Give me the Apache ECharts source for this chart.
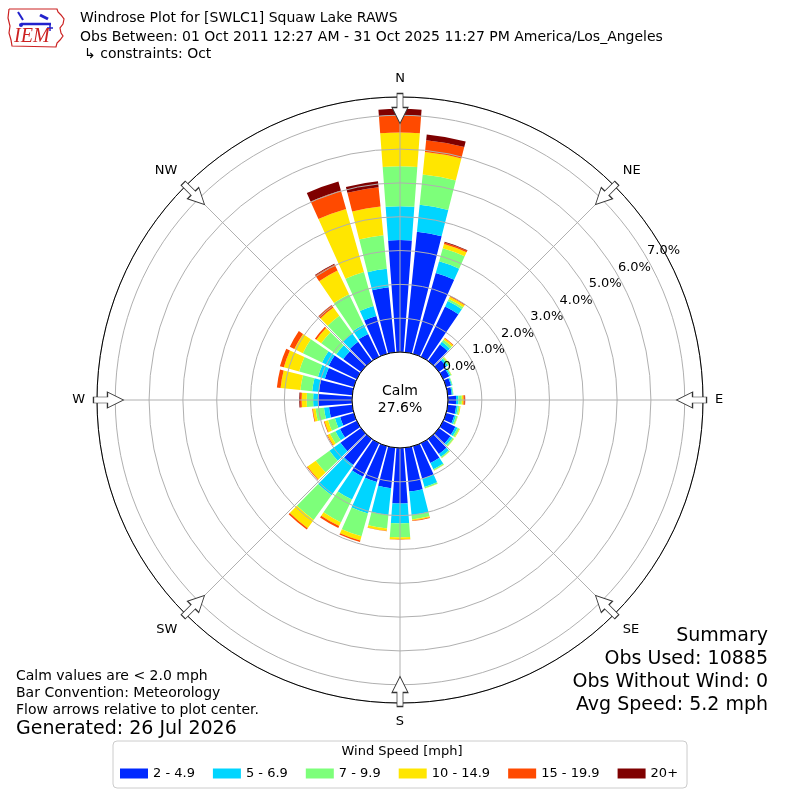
<!DOCTYPE html>
<html><head><meta charset="utf-8">
<script src="https://cdn.jsdelivr.net/npm/echarts@6/dist/echarts.min.js"></script>
<style>html,body{margin:0;padding:0;background:#fff}#c{width:800px;height:800px}</style>
</head><body><div id="c"></div>
<script>
// ---- data (percent of observations) ----
const directions = ['0','10','20','30','40','50','60','70','80','90','100','110','120','130','140','150','160','170',
                    '180','190','200','210','220','230','240','250','260','270','280','290','300','310','320','330','340','350'];
const speedBins = ['2 - 4.9','5 - 6.9','7 - 9.9','10 - 14.9','15 - 19.9','20+'];
const bin_2_5   = [3.31,3.58,2.48,1.65,0.60,0.27,0.20,0.15,0.12,0.24,0.25,0.25,0.40,0.42,0.55,0.65,1.00,1.30,1.64,1.20,1.10,1.10,0.95,0.75,0.55,0.42,0.69,1.00,0.99,0.89,0.92,0.65,0.70,0.75,1.16,1.93];
const bin_5_7   = [1.00,0.80,0.36,0.18,0.10,0.06,0.04,0.03,0.03,0.07,0.05,0.05,0.07,0.07,0.10,0.20,0.25,0.70,0.59,0.80,0.97,0.75,1.10,0.40,0.15,0.16,0.15,0.15,0.20,0.21,0.22,0.25,0.30,0.30,0.31,0.55];
const bin_7_10  = [1.18,0.90,0.40,0.07,0.08,0.05,0.03,0.02,0.02,0.10,0.05,0.05,0.06,0.05,0.04,0.04,0.04,0.13,0.41,0.40,0.70,0.75,0.90,0.50,0.18,0.21,0.25,0.19,0.35,0.58,0.63,0.55,0.65,1.00,1.04,1.00];
const bin_10_15 = [1.00,0.67,0.13,0.07,0.05,0.02,0.01,0.00,0.00,0.05,0.03,0.01,0.02,0.01,0.01,0.01,0.01,0.03,0.06,0.07,0.13,0.12,0.30,0.30,0.08,0.11,0.08,0.15,0.59,0.47,0.28,0.18,0.30,0.78,1.94,0.85];
const bin_15_20 = [0.51,0.35,0.05,0.03,0.02,0.00,0.00,0.00,0.00,0.04,0.00,0.00,0.00,0.00,0.00,0.00,0.00,0.02,0.01,0.01,0.04,0.06,0.05,0.02,0.02,0.02,0.02,0.05,0.11,0.12,0.15,0.05,0.08,0.20,0.57,0.57];
const bin_20p   = [0.19,0.17,0.02,0.00,0.00,0.00,0.00,0.00,0.00,0.01,0.00,0.00,0.00,0.00,0.00,0.00,0.00,0.00,0.00,0.00,0.00,0.00,0.00,0.00,0.00,0.00,0.00,0.02,0.00,0.00,0.00,0.00,0.01,0.02,0.27,0.18];
const radialTicks = [0,1,2,3,4,5,6,7];
const compassLabels = ['N','NE','E','SE','S','SW','W','NW'];
const arrowDirs = [0,45,90,135,180,225,270,315];
const calmPercent = 27.6;
const radiusMax = 7.54;

const binData = [bin_2_5, bin_5_7, bin_7_10, bin_10_15, bin_15_20, bin_20p];
const binColors = ['#0029ff','#00d5ff','#7dff7a','#ffe600','#ff4a00','#7f0000'];
const FONT = 'DejaVu Sans';

const chart = echarts.init(document.getElementById('c'), null, {renderer: 'canvas'});

const barSeries = speedBins.map((name, i) => ({
  name, type: 'bar', coordinateSystem: 'polar', polarIndex: 0, stack: 'wind',
  data: binData[i], barCategoryGap: '15%', itemStyle: {color: binColors[i]},
  z: 2, silent: true
}));

const arrowSeries = {
  type: 'scatter', coordinateSystem: 'polar', polarIndex: 1, silent: true, z: 20,
  symbol: 'path://M5,0 L11,0 L11,14 L16,14 L8,30 L0,14 L5,14 Z',
  symbolSize: [16, 30], symbolKeepAspect: false,
  itemStyle: {color: '#ffffff', borderColor: '#333333', borderWidth: 1, opacity: 1},
  data: arrowDirs.map(d => ({value: [radiusMax * 0.955, d], symbolRotate: -d}))
};

const txt = (x, y, text, size, align, extra) => ({
  type: 'text', x, y, silent: true, z: 30,
  style: Object.assign({text, font: size + 'px "' + FONT + '"', fill: '#000',
    textAlign: align || 'left', textVerticalAlign: 'middle'}, extra || {})
});

const option = {
  backgroundColor: '#ffffff',
  animation: false,
  textStyle: {fontFamily: FONT},
  polar: [
    {center: [400, 400], radius: [48, 303]},
    {center: [400, 400], radius: [48, 303]},
    {center: [400, 400], radius: [68, 321]}
  ],
  angleAxis: [
    {polarIndex: 0, type: 'category', data: directions, startAngle: 95, clockwise: true,
     axisLine: {show: false}, axisTick: {show: false}, axisLabel: {show: false}, splitLine: {show: false}},
    {polarIndex: 1, type: 'value', min: 0, max: 360, interval: 45, startAngle: 90, clockwise: true, z: 11,
     axisLine: {show: true, lineStyle: {color: '#000', width: 1}},
     axisTick: {show: false},
     splitLine: {show: true, lineStyle: {color: '#b0b0b0', width: 1}},
     axisLabel: {show: true, margin: 12, fontSize: 13, color: '#000', fontFamily: FONT,
       formatter: v => (v >= 360 ? '' : compassLabels[Math.round(v / 45)])}},
    {polarIndex: 2, type: 'value', min: 0, max: 360, startAngle: 29.5, clockwise: true,
     axisLine: {show: false}, axisTick: {show: false}, axisLabel: {show: false}, splitLine: {show: false}}
  ],
  radiusAxis: [
    {polarIndex: 0, type: 'value', min: 0, max: radiusMax, interval: 1, z: 10,
     axisLine: {show: false}, axisTick: {show: false}, axisLabel: {show: false},
     splitLine: {show: true, lineStyle: {color: '#b0b0b0', width: 1}}},
    {polarIndex: 1, type: 'value', min: 0, max: radiusMax, interval: 1,
     axisLine: {show: false}, axisTick: {show: false}, axisLabel: {show: false}, splitLine: {show: false}},
    {polarIndex: 2, type: 'value', min: 0, max: radiusMax, interval: 1, z: 12,
     axisLine: {show: false}, axisTick: {show: false}, splitLine: {show: false},
     axisLabel: {show: true, margin: 0, align: 'center', verticalAlign: 'middle', rotate: 0,
       fontSize: 13, color: '#000', fontFamily: FONT,
       formatter: v => (radialTicks.indexOf(Math.round(v * 1000) / 1000) >= 0 ? v.toFixed(1) + '%' : '')}}
  ],
  legend: {
    data: speedBins, left: 113, top: 741, orient: 'horizontal', icon: 'rect',
    itemWidth: 28, itemHeight: 10, itemGap: 18, padding: [26, 9, 8, 7],
    borderColor: '#cccccc', borderWidth: 1, borderRadius: 4, backgroundColor: '#ffffff',
    selectedMode: false,
    textStyle: {fontSize: 13, color: '#000', fontFamily: FONT}
  },
  graphic: [
    // IEM logo (simplified)
    {type: 'polyline', silent: true, z: 30,
     shape: {points: [[9,9],[57,9],[58,12],[61,15],[64,19],[63,24],[60,28],[61,33],[63,36],[60,40],[57,43],[56,47],[12,46],[11,40],[9,33],[10,26],[8,18],[9,9]]},
     style: {stroke: '#cc2222', lineWidth: 1.2, fill: null}},
    {type: 'line', silent: true, z: 30, shape: {x1: 21, y1: 24, x2: 51, y2: 24}, style: {stroke: '#2222cc', lineWidth: 2.5}},
    {type: 'line', silent: true, z: 30, shape: {x1: 18, y1: 12, x2: 23, y2: 20}, style: {stroke: '#2222cc', lineWidth: 2}},
    {type: 'line', silent: true, z: 30, shape: {x1: 40, y1: 15, x2: 48, y2: 19}, style: {stroke: '#2222cc', lineWidth: 3}},
    {type: 'line', silent: true, z: 30, shape: {x1: 50, y1: 24, x2: 50, y2: 31}, style: {stroke: '#2222cc', lineWidth: 1.5}},
    {type: 'line', silent: true, z: 30, shape: {x1: 47, y1: 28, x2: 53, y2: 28}, style: {stroke: '#2222cc', lineWidth: 1.5}},
    {type: 'circle', silent: true, z: 30, shape: {cx: 21, cy: 25, r: 2}, style: {fill: '#2222cc'}},
    {type: 'text', silent: true, z: 30, x: 14, y: 37,
     style: {text: 'IEM', font: 'italic 20px "Liberation Serif"', fill: '#cc2222', textAlign: 'left', textVerticalAlign: 'middle'}},
    // header
    txt(80, 18, 'Windrose Plot for [SWLC1] Squaw Lake RAWS', 14),
    txt(80, 37, 'Obs Between: 01 Oct 2011 12:27 AM - 31 Oct 2025 11:27 PM America/Los_Angeles', 14),
    txt(84, 54, '\u21b3 constraints: Oct', 14),
    // calm
    txt(400, 391, 'Calm', 14, 'center'),
    txt(400, 408, calmPercent.toFixed(1) + '%', 14, 'center'),
    // notes
    txt(16, 676, 'Calm values are < 2.0 mph', 14),
    txt(16, 693, 'Bar Convention: Meteorology', 14),
    txt(16, 710, 'Flow arrows relative to plot center.', 14),
    txt(16, 729, 'Generated: 26 Jul 2026', 19),
    // summary
    txt(768, 636, 'Summary', 19, 'right'),
    txt(768, 659, 'Obs Used: 10885', 19, 'right'),
    txt(768, 682, 'Obs Without Wind: 0', 19, 'right'),
    txt(768, 705, 'Avg Speed: 5.2 mph', 19, 'right'),
    // legend title
    txt(402, 752, 'Wind Speed [mph]', 13, 'center')
  ],
  series: barSeries.concat([arrowSeries])
};
chart.setOption(option);
</script>
</body></html>
